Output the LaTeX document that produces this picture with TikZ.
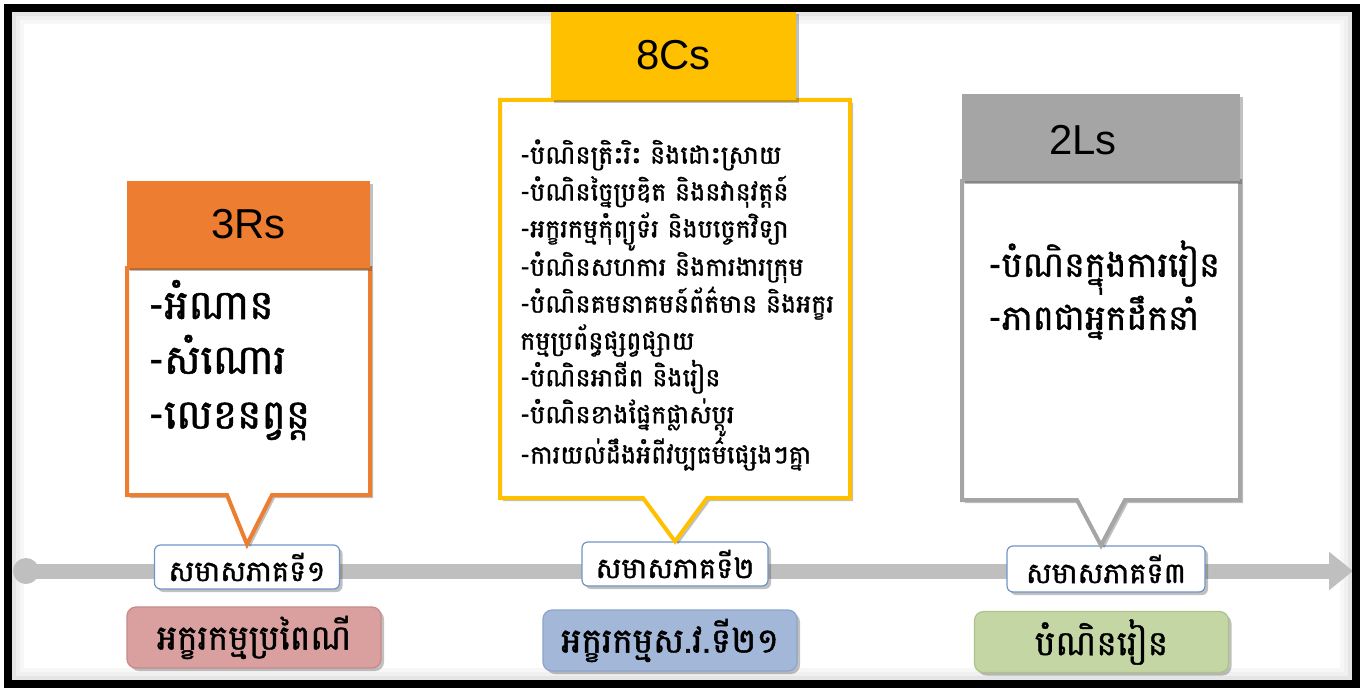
\documentclass[tikz,border=0pt]{standalone}
\usepackage{fontspec}
\setmainfont{Liberation Sans}
\newfontfamily\km[Script=Khmer,FakeBold=1.2]{Battambang}
\usetikzlibrary{shadows,arrows.meta,calc}
\definecolor{orn}{HTML}{ED7D31}
\definecolor{ylw}{HTML}{FFC000}
\definecolor{gry}{HTML}{A5A5A5}
\definecolor{tln}{HTML}{BFBFBF}
\definecolor{lbl}{HTML}{7094C8}
\definecolor{pnkf}{HTML}{D9A09F}
\definecolor{pnkd}{HTML}{C88A89}
\definecolor{bluf}{HTML}{A3B7D9}
\definecolor{blud}{HTML}{8CA4CC}
\definecolor{grnf}{HTML}{C4D6A4}
\definecolor{grnd}{HTML}{AEC28C}
\begin{document}
\begin{tikzpicture}[x=1bp,y=-1bp,
  shd/.style={drop shadow={shadow xshift=3bp,shadow yshift=-3bp,opacity=0.35,fill=black!70}},
  hdr/.style={shd,draw=none,inner sep=0pt,font=\fontsize{42}{48}\selectfont},
  callout/.style={shd,fill=white,line width=4bp,line join=miter},
  lst/.style={inner sep=0pt,align=left,anchor=west},
  lab/.style={shd,draw=lbl,line width=1.2bp,fill=white,rounded corners=6bp,inner sep=0pt,
    minimum height=44bp,font=\km\fontsize{29}{34}\selectfont},
  era/.style={shd,line width=1.2bp,rounded corners=9bp,inner sep=0pt,minimum width=254bp,
    minimum height=61bp,font=\km\fontsize{34.5}{40}\selectfont}]
\useasboundingbox (0,0) rectangle (1367,688);
\fill[white] (0,0) rectangle (1367,688);
% inner shadow of the frame
\draw[black,opacity=0.10,line width=4bp] (14,14) rectangle (1350,678);
\draw[black,opacity=0.06,line width=4bp] (18,18) rectangle (1346,674);
\draw[black,opacity=0.03,line width=4bp] (22,22) rectangle (1342,670);
% timeline
\coordinate (t0) at (26,571);
\coordinate (t1) at (1353,571);
\draw[tln,line width=15bp,-{Triangle[length=24bp,width=37bp]}] (t0) -- (t1);
\fill[tln] (t0) circle[radius=13bp];
% labels on the timeline
\node[lab,minimum width=185bp] (l1) at (247,567) {សមាសភាគទី១};
\node[lab,minimum width=186bp] (l2) at (675,564) {សមាសភាគទី២};
\node[lab,minimum width=198bp,minimum height=46bp] (l3) at (1106,569) {សមាសភាគទី៣};
% callout 1 : 3Rs
\draw[callout,draw=orn] (127,268) -- (370,268) -- (370,495) -- (272,495) -- (l1.north)
  -- (227,495) -- (127,495) -- cycle;
\node[hdr,fill=orn,minimum width=243bp,minimum height=87bp] (h1) at (248.5,224.5) {3Rs};
\node[lst,font=\km\fontsize{41}{55}\selectfont] (c1) at (148,360)
  {-អំណាន\\-សំណោរ\\-លេខនព្វន្ត};
% callout 2 : 8Cs
\draw[callout,draw=ylw] (500,100) -- (850,100) -- (850,498) -- (707,498) -- (l2.north)
  -- (643,498) -- (500,498) -- cycle;
\node[hdr,fill=ylw,minimum width=245bp,minimum height=89bp] (h2) at (673.5,55.5) {8Cs};
\node[lst,font=\km\fontsize{25.5}{37}\selectfont] (c2) at (520,305)
  {-បំណិនត្រិះរិះ និងដោះស្រាយ\\-បំណិនច្នៃប្រឌិត និងនវានុវត្តន៍\\-អក្ខរកម្មកុំព្យូទ័រ និងបច្ចេកវិទ្យា\\-បំណិនសហការ និងការងារក្រុម\\-បំណិនគមនាគមន៍ព័ត៌មាន និងអក្ខរ\\កម្មប្រព័ន្ធផ្សព្វផ្សាយ\\-បំណិនអាជីព និងរៀន\\-បំណិនខាងផ្នែកផ្លាស់ប្តូរ\\-ការយល់ដឹងអំពីវប្បធម៌ផ្សេងៗគ្នា};
% callout 3 : 2Ls
\draw[callout,draw=gry] (962,181) -- (1240,181) -- (1240,500) -- (1125,500) -- ($(l3.north)+(-5,0)$)
  -- (1077,500) -- (962,500) -- cycle;
\node[hdr,fill=gry,minimum width=278bp,minimum height=87bp] (h3) at (1101,137.5) {};
\node[inner sep=0pt,font=\fontsize{42}{48}\selectfont] (h3t) at (1083,140) {2Ls};
\node[lst,font=\km\fontsize{35}{44}\selectfont] (c3) at (988,290)
  {-បំណិនក្នុងការរៀន\\-ភាពជាអ្នកដឹកនាំ};
% eras
\node[era,draw=pnkd,fill=pnkf] (e1) at (254,637.5) {អក្ខរកម្មប្រពៃណី};
\node[era,draw=blud,fill=bluf] (e2) at (670,640.5) {អក្ខរកម្មស.វ.ទី២១};
\node[era,draw=grnd,fill=grnf] (e3) at (1101.5,642) {បំណិនរៀន};
% frame
\draw[line width=8bp] (8,8) rectangle (1356,684);
\end{tikzpicture}
\end{document}
